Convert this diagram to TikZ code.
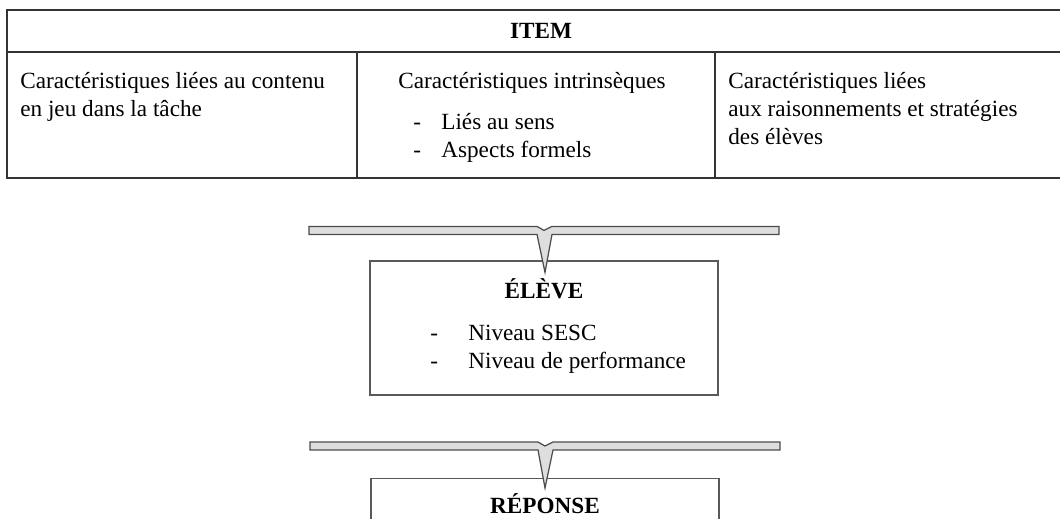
\documentclass[tikz,border=0pt]{standalone}
\usepackage{fontspec}
\setmainfont{Liberation Serif}
\usetikzlibrary{positioning}

\tikzset{
    txt/.style={inner sep=0pt, align=left, font=\fontsize{13.2}{15.9}\selectfont},
    ttl/.style={inner sep=0pt, font=\fontsize{13.2}{15.9}\selectfont\bfseries},
    grid/.style={draw=black!80, line width=0.8pt},
    box/.style={rectangle, draw=black!65, line width=0.7pt, minimum width=6.96cm, minimum height=2.68cm},
    bracket/.style={draw=black!70, fill=black!13, line width=0.7pt, line join=miter},
}
\newcommand{\dashitem}[1]{\makebox[0.56cm][l]{-}#1}

\begin{document}
\begin{tikzpicture}[x=0.02cm, y=-0.02cm]
    \useasboundingbox (0,0) rectangle (1060,518);
    \draw[grid] (1065,10)--(7,10)--(7,178)--(1065,178)
    (7,52)--(1065,52)
    (357,52)--(357,178)
    (715,52)--(715,178);
    \node[ttl](item)at(541,31){ITEM};
    \node[txt, anchor=base west](contenu)at(20,116){Caractéristiques liées au contenu\\en jeu dans la tâche};
    \node[txt, anchor=base west](intr)at(398,88){Caractéristiques intrinsèques};
    \node[txt, anchor=base west](sens)at(413,157){\dashitem{Liés au sens}\\\dashitem{Aspects formels}};
    \node[txt, anchor=base west](raison)at(728,144){Caractéristiques liées\\aux raisonnements et stratégies\\des élèves};
    \node[box](eleve)at(544,328){};
    \node[ttl, below=10pt of eleve.north](eleveT){ÉLÈVE};
    \node[txt, anchor=base west](niv)at(430,368){\makebox[0.76cm][l]{-}Niveau SESC\\\makebox[0.76cm][l]{-}Niveau de performance};
    \draw[bracket] (eleve.north)++(1,12)--++(-8,-38)--++(-228,0)--++(0,-8)--++(228,0)--++(7,4)--++(8,-4)--++(227,0)--++(0,8)--++(-227,0)--cycle;
    \node[box, anchor=north](reponse)at(545,478){};
    \node[ttl, below=8.5pt of reponse.north](reponseT){RÉPONSE};
    \draw[bracket] (reponse.north)++(0,10)--++(-7,-38)--++(-228,0)--++(0,-8)--++(228,0)--++(7,4)--++(8,-4)--++(227,0)--++(0,8)--++(-227,0)--cycle;
\end{tikzpicture}
\end{document}
